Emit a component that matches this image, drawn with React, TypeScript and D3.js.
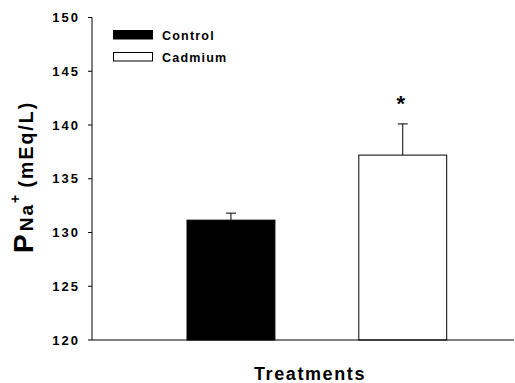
import React from "react";
import * as d3 from "d3";

const categories = ["Control", "Cadmium"];
const means = [131.15, 137.2];
const errors = [0.65, 2.9];
const fills = ["#000000", "#ffffff"];
const yTicks = [120, 125, 130, 135, 140, 145, 150];
const significance = ["", "*"];

export default function App() {
  const W = 515, H = 383;
  const y = d3.scaleLinear().domain([120, 150]).range([340, 17.5]);
  const x = d3.scaleBand().domain(categories).range([187, 446.7]).paddingInner(84 / 172).paddingOuter(0);
  const axisX = 92;
  const font = "Arial, 'Liberation Sans', Helvetica, sans-serif";
  return (
    <svg width={W} height={H} style={{ position: "absolute", left: 0, top: 0, background: "#fff" }} fontFamily={font}>
      <rect x={0} y={0} width={W} height={H} fill="#fff" />
      {/* bars */}
      {categories.map((c, i) => {
        const bx = x(c)!;
        const bw = x.bandwidth();
        const cx = bx + bw / 2;
        const top = y(means[i]);
        const eTop = y(means[i] + errors[i]);
        return (
          <g key={c}>
            <line x1={cx} x2={cx} y1={top} y2={eTop} stroke="#000" strokeWidth={1} />
            <line x1={cx - 5} x2={cx + 5} y1={eTop} y2={eTop} stroke="#000" strokeWidth={1} />
            <rect x={bx} y={top} width={bw} height={y(120) - top} fill={fills[i]} stroke="#000" strokeWidth={1} />
            {significance[i] && (
              <text x={cx - 2} y={eTop - 13} textAnchor="middle" fontSize={22} fontWeight="bold">{significance[i]}</text>
            )}
          </g>
        );
      })}
      {/* axes */}
      <line x1={axisX} x2={axisX} y1={y(150)} y2={y(120)} stroke="#000" strokeWidth={1} />
      <line x1={axisX} x2={514} y1={y(120)} y2={y(120)} stroke="#000" strokeWidth={1} />
      {yTicks.map((t) => (
        <g key={t}>
          <line x1={axisX - 4} x2={axisX} y1={y(t)} y2={y(t)} stroke="#000" strokeWidth={1} />
          <text x={80} y={y(t)} dy="0.35em" textAnchor="end" fontSize={13} fontWeight="bold" letterSpacing={2}>{t}</text>
        </g>
      ))}
      {/* y label */}
      <text transform="translate(33,253) rotate(-90)" fontWeight="bold">
        <tspan fontSize={28} letterSpacing={3}>P</tspan>
        <tspan fontSize={19} letterSpacing={2}>Na</tspan>
        <tspan fontSize={14} dy={-13}>+</tspan>
        <tspan fontSize={19.5} dy={13} letterSpacing={2}> (mEq/L)</tspan>
      </text>
      {/* x label */}
      <text x={310} y={380} textAnchor="middle" fontSize={18} fontWeight="bold" letterSpacing={1.6}>Treatments</text>
      {/* legend */}
      {categories.map((c, i) => (
        <g key={"lg" + c}>
          <rect x={113.5} y={30.5 + i * 22} width={39} height={8.5} fill={fills[i]} stroke="#000" strokeWidth={1} />
          <text x={162} y={39.5 + i * 22} fontSize={12.5} fontWeight="bold" letterSpacing={1.2}>{c}</text>
        </g>
      ))}
    </svg>
  );
}
